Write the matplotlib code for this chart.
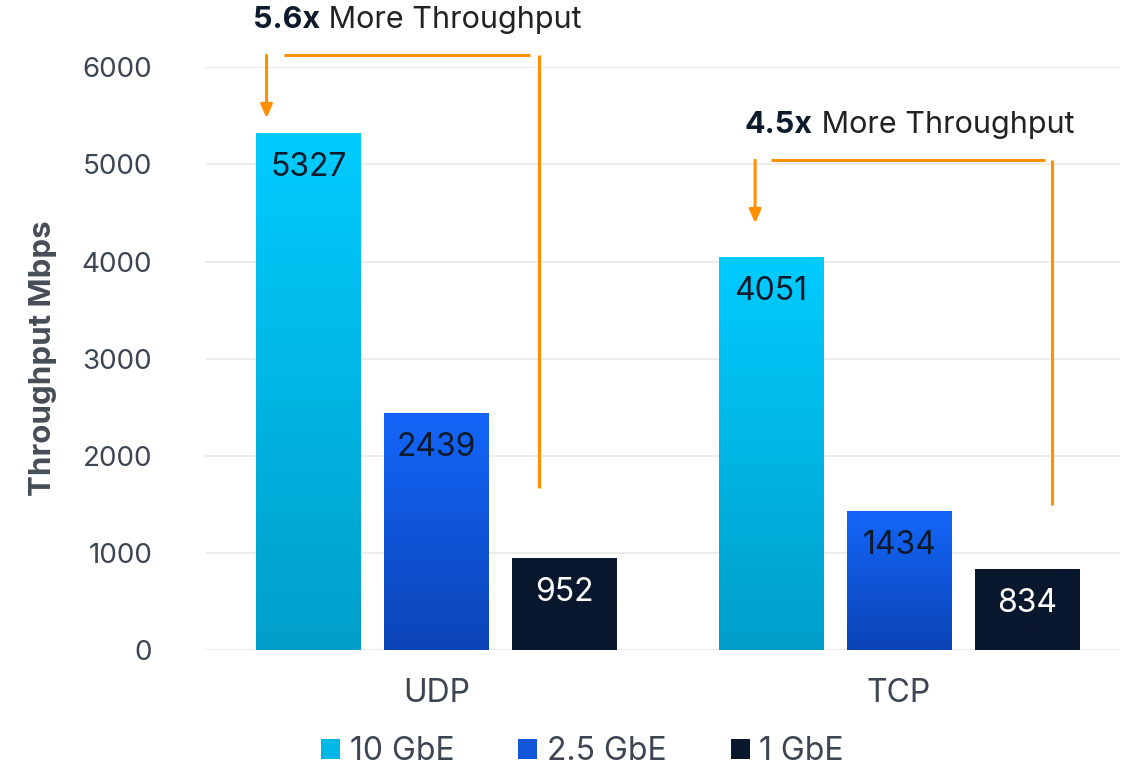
import numpy as np
import matplotlib
matplotlib.use("Agg")
import matplotlib.pyplot as plt
from matplotlib.patches import Patch
from matplotlib.colors import LinearSegmentedColormap

plt.rcParams['font.family'] = ['Inter', 'DejaVu Sans']

protocols = ["UDP", "TCP"]
links = ["10 GbE", "2.5 GbE", "1 GbE"]
throughput = {
    "10 GbE": [5327, 4051],
    "2.5 GbE": [2439, 1434],
    "1 GbE": [952, 834],
}
gains = ["5.6x", "4.5x"]

# top / bottom colours of each bar gradient
grad = {
    "10 GbE": ("#00CCFF", "#009FC9"),
    "2.5 GbE": ("#1466FA", "#0B44B6"),
    "1 GbE": ("#0A182E", "#0A182E"),
}
label_col = {"10 GbE": "#0d1a2c", "2.5 GbE": "#0d1a2c", "1 GbE": "white"}
legend_col = {"10 GbE": "#00B8E6", "2.5 GbE": "#1257DA", "1 GbE": "#0A182E"}
orange = "#FF9000"
tick_col = "#3d4552"
fs = 23

fig = plt.figure(figsize=(11.42, 7.73), dpi=100)
ax = fig.add_axes([0.1795, 0.159, 0.801, 0.754])

x = np.arange(len(protocols))
width = 0.225
step = 0.2765

for i, name in enumerate(links):
    pos = x + (i - 1) * step
    bars = ax.bar(pos, throughput[name], width, color="none", zorder=3)
    cmap = LinearSegmentedColormap.from_list(name, [grad[name][1], grad[name][0]])
    for b, v in zip(bars, throughput[name]):
        x0 = b.get_x()
        img = ax.imshow(np.linspace(0, 1, 256).reshape(-1, 1), cmap=cmap,
                        origin="lower", aspect="auto",
                        extent=[x0, x0 + width, 0, v], zorder=3)
        img.set_clip_path(b)
        ax.annotate(str(v), (x0 + width / 2, v), xytext=(0, -25),
                    textcoords="offset points", ha="center", va="center",
                    fontsize=fs, color=label_col[name], zorder=5)

ax.set_xlim(-0.5, 1.477)
ax.set_ylim(0, 6000)
ax.set_yticks(range(0, 6001, 1000))
ax.set_xticks(x)
ax.set_xticklabels(protocols)
ax.grid(axis="y", color="#ececec", linewidth=1.5, zorder=0)
ax.set_axisbelow(True)
for s in ax.spines.values():
    s.set_visible(False)
ax.tick_params(length=0, labelsize=fs, colors=tick_col)
ax.tick_params(axis="y", labelsize=20, pad=38)
ax.tick_params(axis="x", pad=20)
ax.set_ylabel("Throughput Mbps", fontsize=22.5, fontweight="bold",
              color="#474d57", labelpad=18)

# "more throughput" brackets over each group
brackets = [
    # text x, text y, arrow x, arrow tip, line y, hline start, hline end, vline x, vline bottom
    (-0.397, 6483, -0.367, 5475, 6123, -0.330, 0.203, 0.222, 1667),
    (-0.333, 5403, -0.311, 4394, 5043, -0.276, 0.315, 0.330, 1492),
]
for g, gain, (tx, ty, axx, tip, ly, h0, h1, vx, vb) in zip(x, gains, brackets):
    t = ax.text(g + tx, ty, gain, fontsize=22, fontweight="bold", color="#0d1a2c",
                va="center", ha="left", clip_on=False)
    ax.annotate(" More Throughput", xy=(1, 0.5), xycoords=t, va="center",
                ha="left", fontsize=22, color="#222222", annotation_clip=False)
    ax.annotate("", xy=(g + axx, tip), xytext=(g + axx, ly),
                arrowprops=dict(arrowstyle="-|>,head_length=0.8,head_width=0.35",
                                color=orange, lw=2.2, shrinkA=0, shrinkB=0),
                annotation_clip=False)
    ax.plot([g + h0, g + h1], [ly, ly], color=orange, lw=2.2, clip_on=False,
            solid_capstyle="butt")
    ax.plot([g + vx, g + vx], [ly, vb], color=orange, lw=2.2, clip_on=False,
            solid_capstyle="butt")

handles = [Patch(facecolor=legend_col[n], label=n) for n in links]
fig.legend(handles=handles, loc="lower center", bbox_to_anchor=(0.51, -0.03),
           ncol=3, frameon=False, fontsize=fs, labelcolor=tick_col,
           handlelength=0.6, handleheight=0.6, handletextpad=0.3,
           columnspacing=2.0)

fig.savefig("out.png", dpi=100, facecolor="white")
